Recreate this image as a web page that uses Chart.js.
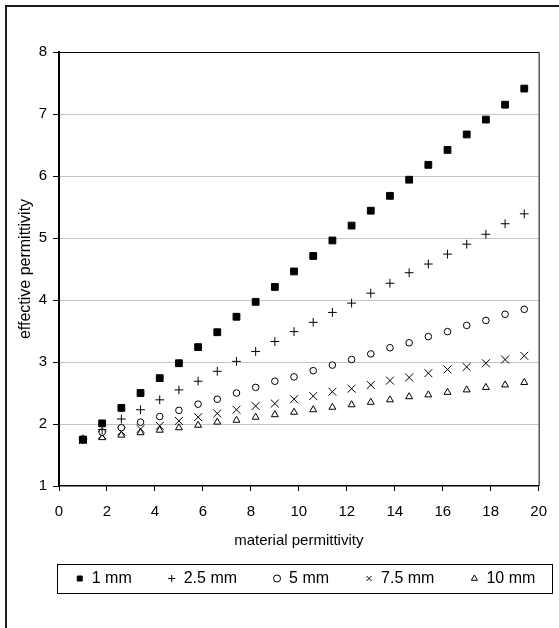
<!DOCTYPE html>
<html>
<head>
<meta charset="utf-8">
<script src="https://cdn.jsdelivr.net/npm/chart.js@4"></script>
<style>
  body { margin: 0; background: #fff; }
  #wrap { position: relative; width: 559px; height: 628px; }
</style>
</head>
<body>
<div id="wrap"><canvas id="myChart"></canvas></div>
<script>
// material permittivity (x)
var permittivity = [1, 1.8, 2.6, 3.4, 4.2, 5, 5.8, 6.6, 7.4, 8.2, 9, 9.8, 10.6, 11.4, 12.2, 13, 13.8, 14.6, 15.4, 16.2, 17, 17.8, 18.6, 19.4]
// effective permittivity for each thickness
var mm1   = [1.75, 2.01, 2.26, 2.50, 2.74, 2.98, 3.24, 3.48, 3.73, 3.97, 4.21, 4.46, 4.71, 4.96, 5.20, 5.44, 5.68, 5.94, 6.18, 6.42, 6.67, 6.91, 7.15, 7.41]
var mm2_5 = [1.76, 1.91, 2.08, 2.23, 2.39, 2.55, 2.69, 2.85, 3.01, 3.17, 3.33, 3.49, 3.64, 3.80, 3.95, 4.11, 4.27, 4.44, 4.58, 4.74, 4.90, 5.06, 5.23, 5.39]
var mm5   = [1.74, 1.87, 1.94, 2.03, 2.12, 2.22, 2.32, 2.40, 2.50, 2.59, 2.69, 2.76, 2.86, 2.95, 3.04, 3.13, 3.23, 3.31, 3.41, 3.49, 3.59, 3.67, 3.77, 3.85]
var mm7_5 = [1.74, 1.82, 1.88, 1.92, 1.97, 2.05, 2.11, 2.17, 2.23, 2.29, 2.33, 2.40, 2.45, 2.52, 2.57, 2.63, 2.70, 2.75, 2.82, 2.88, 2.92, 2.98, 3.04, 3.10]
var mm10  = [1.73, 1.78, 1.82, 1.86, 1.90, 1.94, 1.98, 2.03, 2.06, 2.11, 2.15, 2.19, 2.23, 2.27, 2.31, 2.35, 2.39, 2.44, 2.47, 2.51, 2.55, 2.59, 2.63, 2.67]

var series_labels = ['1 mm', '2.5 mm', '5 mm', '7.5 mm', '10 mm']
var series_values = [mm1, mm2_5, mm5, mm7_5, mm10]
var x_ticks = [0, 2, 4, 6, 8, 10, 12, 14, 16, 18, 20]
var y_ticks = [1, 2, 3, 4, 5, 6, 7, 8]

var point_styles = ['rect', 'cross', 'circle', 'crossRot', 'triangle']
var point_radius = [4.8, 4.4, 3.3, 5.6, 4]
var point_fill = ['#000', '#000', '#fff', '#000', '#fff']

Chart.defaults.font.family = '"Liberation Sans", Arial, sans-serif'
Chart.defaults.color = '#000'

var data_set = []
for (s = 0; s < series_values.length; s++) {
    var pts = []
    for (i = 0; i < permittivity.length; i++) {
        pts.push({x: permittivity[i], y: series_values[s][i]})
    }
    data_set.push({
        label: series_labels[s],
        data: pts,
        pointStyle: point_styles[s],
        pointRadius: point_radius[s],
        pointBackgroundColor: point_fill[s],
        pointBorderColor: '#000',
        pointBorderWidth: 1,
        backgroundColor: point_fill[s],
        borderColor: '#000',
        showLine: false
    })
}

const deco = {
  id: 'deco',
  beforeInit: (chart) => {
    // fixed legend height, the box is drawn below
    const fit = chart.legend.fit
    chart.legend.fit = function () { fit.call(this); this.height = 29 }
  },
  afterLayout: (chart) => {
    const lg = chart.legend
    const pad = lg.options.labels.padding
    const boxTop = lg.top
    lg.left = 36
    lg.right = 575
    lg.top = boxTop - pad + 6.5
  },
  afterDraw: (chart) => {
    const ctx = chart.ctx
    const a = chart.chartArea
    ctx.save()
    // plot frame top/right
    ctx.strokeStyle = '#000'
    ctx.lineWidth = 1
    ctx.beginPath()
    ctx.moveTo(a.left, a.top + 0.5)
    ctx.lineTo(a.right + 0.5, a.top + 0.5)
    ctx.lineTo(a.right + 0.5, a.bottom)
    ctx.stroke()
    // legend box
    ctx.strokeRect(57.5, 564.5, 495, 29)
    // outer chart frame
    ctx.fillStyle = '#1a1a1a'
    ctx.fillRect(5, 5, 554, 2)
    ctx.fillRect(5, 5, 2, 623)
    ctx.restore()
  }
}

var the_chart_canvas = document.getElementById('myChart').getContext('2d')
var myChart = new Chart(the_chart_canvas, {
    type: 'scatter',
    data: { datasets: data_set },
    options: {
        responsive: true,
        maintainAspectRatio: false,
        animation: false,
        layout: { padding: { left: 0, right: 18, top: 52, bottom: 35 } },
        plugins: {
            tooltip: { enabled: false },
            legend: {
                position: 'bottom',
                labels: {
                    usePointStyle: true,
                    boxWidth: 8,
                    boxHeight: 5,
                    padding: 36,
                    font: { size: 16 },
                    color: '#000'
                }
            }
        },
        scales: {
            x: {
                type: 'linear',
                min: 0,
                max: 20,
                afterBuildTicks: (scale) => { scale.ticks = x_ticks.map(v => ({value: v})) },
                afterFit: (scale) => { scale.height = 78 },
                ticks: { font: { size: 15 }, padding: 12, color: '#000' },
                grid: { drawOnChartArea: false, tickLength: 5, tickColor: '#000', tickWidth: 1 },
                border: { display: true, color: '#000', width: 1.5 },
                title: { display: true, text: 'material permittivity', font: { size: 15 }, padding: { top: 0, bottom: 14 }, color: '#000' }
            },
            y: {
                type: 'linear',
                min: 1,
                max: 8,
                afterBuildTicks: (scale) => { scale.ticks = y_ticks.map(v => ({value: v})) },
                afterFit: (scale) => { scale.width = 59 },
                ticks: { font: { size: 15 }, padding: 6, color: '#000' },
                grid: {
                    color: (c) => (c.tick && (c.tick.value === 1 || c.tick.value === 8)) ? 'rgba(0,0,0,0)' : '#c4c4c4',
                    lineWidth: 1,
                    borderDash: [8, 5],
                    tickLength: 6,
                    tickColor: '#000',
                    tickWidth: 1,
                    tickBorderDash: []
                },
                border: { display: true, color: '#000', width: 2 },
                title: { display: true, text: 'effective permittivity', font: { size: 16 }, padding: { top: 16, bottom: 0 }, color: '#000' }
            }
        }
    },
    plugins: [deco]
})
</script>
</body>
</html>
